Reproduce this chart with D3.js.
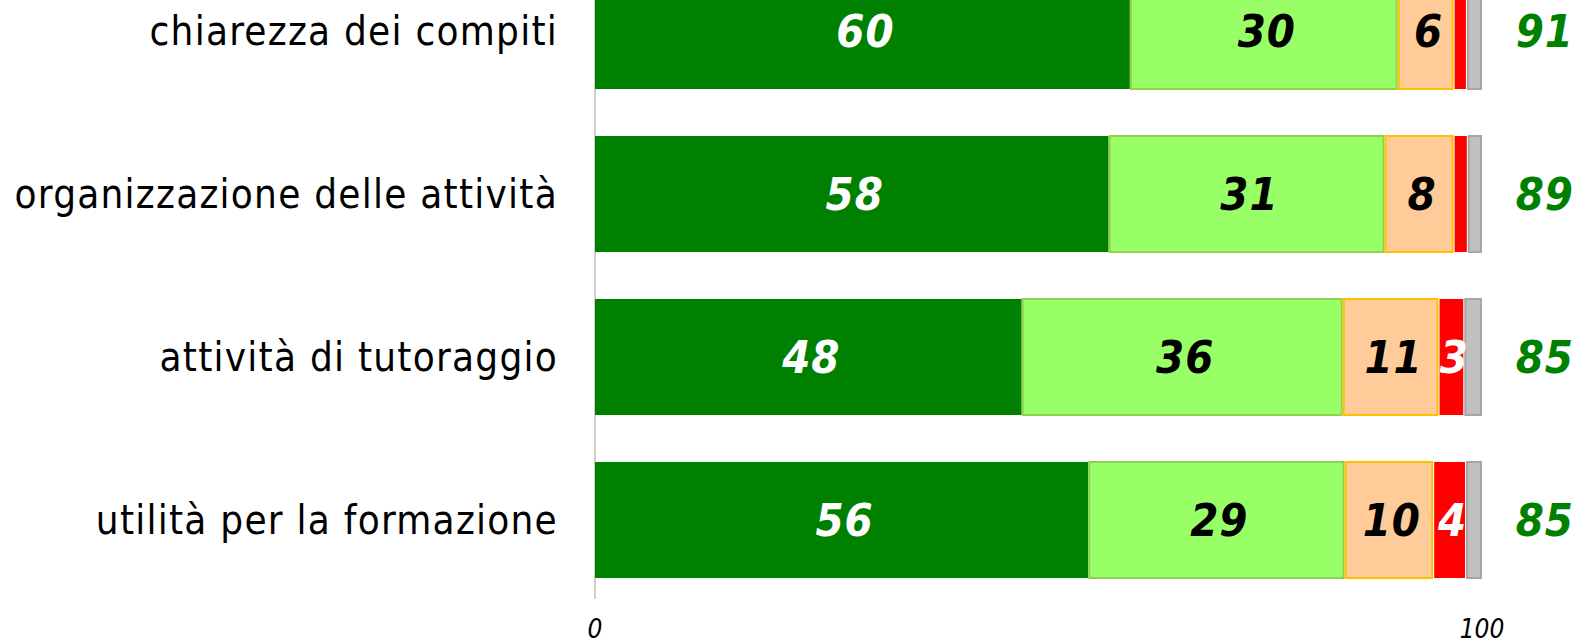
<!DOCTYPE html>
<html><head><meta charset="utf-8">
<script src="https://cdn.jsdelivr.net/npm/d3@7"></script>
<style>
html,body{margin:0;padding:0;background:#fff;}
svg{display:block;}
text{font-family:"DejaVu Sans Condensed","DejaVu Sans",sans-serif;}
</style></head>
<body>
<script>
const categories = ["chiarezza dei compiti","organizzazione delle attività","attività di tutoraggio","utilità per la formazione"];
const seriesNames = ["molto","abbastanza","poco","per niente","non risponde"];
const molto       = [60.3, 57.9, 48.1, 55.6];
const abbastanza  = [30.2, 31.1, 36.2, 28.9];
const poco        = [6.3, 7.8, 10.8, 10.0];
const perNiente   = [1.5, 1.6, 2.9, 3.7];
const nonRisponde = [1.7, 1.6, 2.0, 1.8];
const totals      = [91, 89, 85, 85];
const tickValues  = [0, 100];

const fills   = ["#008000","#99FF66","#FFCC99","#FF0000","#C0C0C0"];
const strokes = ["#008000","#92D050","#FFC000","#FF0000","#A6A6A6"];
const labelColors = ["#fff","#000","#000","#fff","#000"];

const W = 1579, H = 643;
const svg = d3.select("body").append("svg").attr("width", W).attr("height", H);

const x = d3.scaleLinear().domain([0,100]).range([595,1482]);
const y = d3.scaleBand().domain(categories).range([-28,579]).paddingInner(0.276).paddingOuter(0);

const seriesArr = [molto, abbastanza, poco, perNiente, nonRisponde];
const rows = categories.map((c,i)=>{
  const o = {cat:c};
  seriesNames.forEach((s,k)=>o[s]=seriesArr[k][i]);
  return o;
});
const stacked = d3.stack().keys(seriesNames)(rows);

// axis line
svg.append("line").attr("x1",x(0)).attr("x2",x(0)).attr("y1",0).attr("y2",599)
  .attr("stroke","#BFBFBF").attr("stroke-width",1.5);

const g = svg.append("g");
stacked.forEach((layer,k)=>{
  g.selectAll(null).data(layer).enter().append("rect")
    .attr("x",d=>x(d[0])+ (k===0?0:1))
    .attr("width",d=>Math.max(0,x(d[1])-x(d[0])- (k===0?0:2)))
    .attr("y",d=>y(d.data.cat)+1)
    .attr("height",y.bandwidth()-2)
    .attr("fill",fills[k])
    .attr("stroke",strokes[k])
    .attr("stroke-width",k===0||k===3?0:2);
});

stacked.forEach((layer,k)=>{
  g.selectAll(null).data(layer.filter(d=>Math.round(d[1]-d[0])>=3)).enter().append("text")
    .attr("x",d=>(x(d[0])+x(d[1]))/2 + 3)
    .attr("y",d=>y(d.data.cat)+y.bandwidth()/2)
    .attr("dy","0.36em")
    .attr("text-anchor","middle")
    .attr("font-size",45).attr("font-weight","bold").attr("font-style","italic")
    .attr("letter-spacing",1)
    .attr("fill",labelColors[k])
    .text(d=>Math.round(d[1]-d[0]));
});

// category labels
svg.selectAll(null).data(categories).enter().append("text")
  .attr("x",558).attr("y",d=>y(d)+y.bandwidth()/2).attr("dy","0.36em")
  .attr("text-anchor","end").attr("font-size",40).attr("letter-spacing",1.25).attr("fill","#000")
  .text(d=>d);

// totals
svg.selectAll(null).data(categories).enter().append("text")
  .attr("x",1574).attr("y",d=>y(d)+y.bandwidth()/2).attr("dy","0.36em")
  .attr("text-anchor","end").attr("font-size",45).attr("font-weight","bold").attr("font-style","italic")
  .attr("letter-spacing",1)
  .attr("fill","#008000")
  .text((d,i)=>totals[i]);

// tick labels
svg.selectAll(null).data(tickValues).enter().append("text")
  .attr("x",d=>x(d)).attr("y",638)
  .attr("text-anchor","middle").attr("font-size",26).attr("font-style","italic").attr("fill","#000")
  .text(d=>d);
</script>
</body></html>
